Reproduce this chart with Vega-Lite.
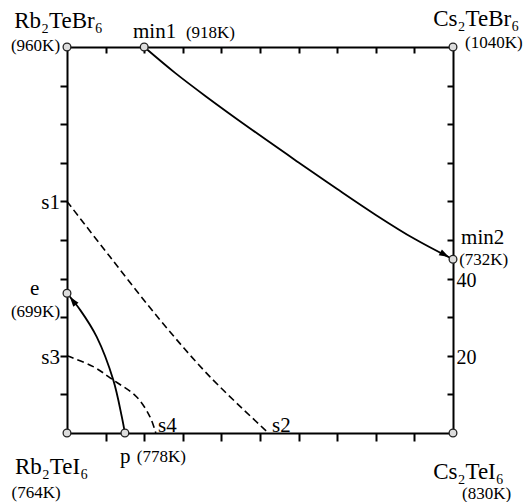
{
  "$schema": "https://vega.github.io/schema/vega-lite/v6.json",
  "width": 386,
  "height": 386,
  "autosize": {"type": "none"},
  "padding": {"left": 67, "top": 47, "right": 76, "bottom": 69},
  "background": "white",
  "config": {
    "view": {"stroke": null},
    "axis": {"domainColor": "black", "domainWidth": 2, "tickColor": "black", "tickWidth": 2, "grid": false, "title": null, "domainCap": "square"},
    "text": {"font": "Liberation Serif", "color": "black"}
  },
  "datasets": {
    "curves": [
      {"curve": "min1-min2", "kind": "path", "o": 1, "x": 20, "y": 100},
      {"curve": "min1-min2", "kind": "path", "o": 2, "x": 28, "y": 93.3},
      {"curve": "min1-min2", "kind": "path", "o": 3, "x": 36, "y": 87.2},
      {"curve": "min1-min2", "kind": "path", "o": 4, "x": 48, "y": 78.5},
      {"curve": "min1-min2", "kind": "path", "o": 5, "x": 60, "y": 70.1},
      {"curve": "min1-min2", "kind": "path", "o": 6, "x": 70, "y": 63.2},
      {"curve": "min1-min2", "kind": "path", "o": 7, "x": 80, "y": 56.5},
      {"curve": "min1-min2", "kind": "path", "o": 8, "x": 90, "y": 50.3},
      {"curve": "min1-min2", "kind": "path", "o": 9, "x": 100, "y": 45},
      {"curve": "p-e", "kind": "path", "o": 1, "x": 15, "y": 0},
      {"curve": "p-e", "kind": "path", "o": 2, "x": 14.2, "y": 4.2},
      {"curve": "p-e", "kind": "path", "o": 3, "x": 12.0, "y": 13.7},
      {"curve": "p-e", "kind": "path", "o": 4, "x": 7.7, "y": 24.9},
      {"curve": "p-e", "kind": "path", "o": 5, "x": 3.4, "y": 31.9},
      {"curve": "p-e", "kind": "path", "o": 6, "x": 0, "y": 36.2},
      {"curve": "s1-s2", "kind": "boundary", "o": 1, "x": 0, "y": 60},
      {"curve": "s1-s2", "kind": "boundary", "o": 2, "x": 11.1, "y": 45.7},
      {"curve": "s1-s2", "kind": "boundary", "o": 3, "x": 24.1, "y": 29.3},
      {"curve": "s1-s2", "kind": "boundary", "o": 4, "x": 37, "y": 14.6},
      {"curve": "s1-s2", "kind": "boundary", "o": 5, "x": 52.2, "y": 0},
      {"curve": "s3-s4", "kind": "boundary", "o": 1, "x": 0, "y": 20},
      {"curve": "s3-s4", "kind": "boundary", "o": 2, "x": 6.8, "y": 17.2},
      {"curve": "s3-s4", "kind": "boundary", "o": 3, "x": 12.0, "y": 13.7},
      {"curve": "s3-s4", "kind": "boundary", "o": 4, "x": 18.0, "y": 9.4},
      {"curve": "s3-s4", "kind": "boundary", "o": 5, "x": 21.5, "y": 4.2},
      {"curve": "s3-s4", "kind": "boundary", "o": 6, "x": 23, "y": 0}
    ],
    "points": [
      {"name": "Rb2TeBr6", "x": 0, "y": 100},
      {"name": "Cs2TeBr6", "x": 100, "y": 100},
      {"name": "Rb2TeI6", "x": 0, "y": 0},
      {"name": "Cs2TeI6", "x": 100, "y": 0},
      {"name": "min1", "x": 20, "y": 100},
      {"name": "min2", "x": 100, "y": 45},
      {"name": "e", "x": 0, "y": 36.2},
      {"name": "p", "x": 15, "y": 0}
    ],
    "tips": [
      {"curve": "min1-min2", "x": 100, "y": 45},
      {"curve": "p-e", "x": 0, "y": 36.2}
    ],
    "compounds": [
      {"text": "Rb₂TeBr₆", "x": -2.2, "y": 104.9},
      {"text": "Cs₂TeBr₆", "x": 106.0, "y": 105.4},
      {"text": "Rb₂TeI₆", "x": -4.0, "y": -10.7},
      {"text": "Cs₂TeI₆", "x": 104.0, "y": -11.8}
    ],
    "names": [
      {"text": "min1", "side": "start", "x": 17.1, "y": 102.3},
      {"text": "min2", "side": "start", "x": 102.1, "y": 49.0},
      {"text": "s1", "side": "end", "x": -1.8, "y": 58.0},
      {"text": "s3", "side": "end", "x": -1.8, "y": 18.0},
      {"text": "e", "side": "center", "x": -8.4, "y": 35.8},
      {"text": "p", "side": "start", "x": 13.7, "y": -7.8},
      {"text": "s4", "side": "start", "x": 23.6, "y": 0.3},
      {"text": "s2", "side": "start", "x": 53.1, "y": 0.3}
    ],
    "temps": [
      {"text": "(960K)", "side": "end", "x": -1.8, "y": 99.0},
      {"text": "(918K)", "side": "start", "x": 30.8, "y": 102.3},
      {"text": "(1040K)", "side": "start", "x": 103.1, "y": 99.7},
      {"text": "(699K)", "side": "end", "x": -1.8, "y": 30.1},
      {"text": "(732K)", "side": "start", "x": 101.6, "y": 43.6},
      {"text": "(764K)", "side": "center", "x": -8.0, "y": -16.9},
      {"text": "(778K)", "side": "start", "x": 18.1, "y": -7.4},
      {"text": "(830K)", "side": "center", "x": 108.7, "y": -17.1}
    ]
  },
  "layer": [
    {
      "data": {"name": "curves"},
      "transform": [{"filter": "datum.kind == 'path'"}],
      "mark": {"type": "line", "interpolate": "catmull-rom", "color": "black", "strokeWidth": 1.8},
      "encoding": {
        "x": {"field": "x", "type": "quantitative", "scale": {"domain": [0, 100], "nice": false}, "axis": {"orient": "bottom", "values": [10, 20, 30, 40, 50, 60, 70, 80, 90], "labels": false, "tickSize": 8}},
        "y": {"field": "y", "type": "quantitative", "scale": {"domain": [0, 100], "nice": false}, "axis": {"orient": "left", "values": [10, 20, 30, 40, 50, 60, 70, 80, 90], "labels": false, "tickSize": 7}},
        "detail": {"field": "curve"},
        "order": {"field": "o"}
      }
    },
    {
      "data": {"name": "curves"},
      "transform": [{"filter": "datum.kind == 'boundary'"}],
      "mark": {"type": "line", "interpolate": "catmull-rom", "color": "black", "strokeWidth": 1.6, "strokeDash": [7, 4]},
      "encoding": {
        "x": {"field": "x", "type": "quantitative", "scale": {"domain": [0, 100], "nice": false}, "axis": {"orient": "top", "values": [10, 20, 30, 40, 50, 60, 70, 80, 90], "labels": false, "tickSize": -6}},
        "y": {"field": "y", "type": "quantitative", "scale": {"domain": [0, 100], "nice": false}, "axis": {"orient": "right", "values": [10, 20, 30, 40, 50, 60, 70, 80, 90], "tickSize": -6, "labelExpr": "datum.value == 20 || datum.value == 40 ? datum.label : ''", "labelFont": "Liberation Serif", "labelFontSize": 20, "labelColor": "black", "labelPadding": 9, "labelBaseline": "middle", "labelOffset": 2}},
        "detail": {"field": "curve"},
        "order": {"field": "o"}
      }
    },
    {
      "data": {"name": "tips"},
      "transform": [{"filter": "datum.curve == 'min1-min2'"}],
      "mark": {"type": "point", "shape": "M -0.45 0 L -1.45 -0.33 L -1.45 0.33 Z", "filled": true, "color": "black", "opacity": 1, "size": 400, "angle": 29},
      "encoding": {
        "x": {"field": "x", "type": "quantitative", "scale": {"domain": [0, 100], "nice": false}, "axis": null},
        "y": {"field": "y", "type": "quantitative", "scale": {"domain": [0, 100], "nice": false}, "axis": null}
      }
    },
    {
      "data": {"name": "tips"},
      "transform": [{"filter": "datum.curve == 'p-e'"}],
      "mark": {"type": "point", "shape": "M -0.45 0 L -1.45 -0.33 L -1.45 0.33 Z", "filled": true, "color": "black", "opacity": 1, "size": 400, "angle": 232},
      "encoding": {
        "x": {"field": "x", "type": "quantitative", "scale": {"domain": [0, 100], "nice": false}, "axis": null},
        "y": {"field": "y", "type": "quantitative", "scale": {"domain": [0, 100], "nice": false}, "axis": null}
      }
    },
    {
      "data": {"name": "points"},
      "mark": {"type": "point", "shape": "circle", "filled": true, "fill": "#dddddd", "stroke": "#222222", "strokeWidth": 1.3, "opacity": 1, "size": 60},
      "encoding": {
        "x": {"field": "x", "type": "quantitative", "scale": {"domain": [0, 100], "nice": false}, "axis": null},
        "y": {"field": "y", "type": "quantitative", "scale": {"domain": [0, 100], "nice": false}, "axis": null}
      }
    },
    {
      "data": {"name": "compounds"},
      "mark": {"type": "text", "align": "center", "baseline": "alphabetic", "fontSize": 23},
      "encoding": {
        "x": {"field": "x", "type": "quantitative", "scale": {"domain": [0, 100], "nice": false}, "axis": null},
        "y": {"field": "y", "type": "quantitative", "scale": {"domain": [0, 100], "nice": false}, "axis": null},
        "text": {"field": "text"}
      }
    },
    {
      "data": {"name": "names"},
      "transform": [{"filter": "datum.side == 'center'"}],
      "mark": {"type": "text", "align": "center", "baseline": "alphabetic", "fontSize": 21},
      "encoding": {
        "x": {"field": "x", "type": "quantitative", "scale": {"domain": [0, 100], "nice": false}, "axis": null},
        "y": {"field": "y", "type": "quantitative", "scale": {"domain": [0, 100], "nice": false}, "axis": null},
        "text": {"field": "text"}
      }
    },
    {
      "data": {"name": "names"},
      "transform": [{"filter": "datum.side == 'start'"}],
      "mark": {"type": "text", "align": "left", "baseline": "alphabetic", "fontSize": 21},
      "encoding": {
        "x": {"field": "x", "type": "quantitative", "scale": {"domain": [0, 100], "nice": false}, "axis": null},
        "y": {"field": "y", "type": "quantitative", "scale": {"domain": [0, 100], "nice": false}, "axis": null},
        "text": {"field": "text"}
      }
    },
    {
      "data": {"name": "names"},
      "transform": [{"filter": "datum.side == 'end'"}],
      "mark": {"type": "text", "align": "right", "baseline": "alphabetic", "fontSize": 21},
      "encoding": {
        "x": {"field": "x", "type": "quantitative", "scale": {"domain": [0, 100], "nice": false}, "axis": null},
        "y": {"field": "y", "type": "quantitative", "scale": {"domain": [0, 100], "nice": false}, "axis": null},
        "text": {"field": "text"}
      }
    },
    {
      "data": {"name": "temps"},
      "transform": [{"filter": "datum.side == 'center'"}],
      "mark": {"type": "text", "align": "center", "baseline": "alphabetic", "fontSize": 17},
      "encoding": {
        "x": {"field": "x", "type": "quantitative", "scale": {"domain": [0, 100], "nice": false}, "axis": null},
        "y": {"field": "y", "type": "quantitative", "scale": {"domain": [0, 100], "nice": false}, "axis": null},
        "text": {"field": "text"}
      }
    },
    {
      "data": {"name": "temps"},
      "transform": [{"filter": "datum.side == 'start'"}],
      "mark": {"type": "text", "align": "left", "baseline": "alphabetic", "fontSize": 17},
      "encoding": {
        "x": {"field": "x", "type": "quantitative", "scale": {"domain": [0, 100], "nice": false}, "axis": null},
        "y": {"field": "y", "type": "quantitative", "scale": {"domain": [0, 100], "nice": false}, "axis": null},
        "text": {"field": "text"}
      }
    },
    {
      "data": {"name": "temps"},
      "transform": [{"filter": "datum.side == 'end'"}],
      "mark": {"type": "text", "align": "right", "baseline": "alphabetic", "fontSize": 17},
      "encoding": {
        "x": {"field": "x", "type": "quantitative", "scale": {"domain": [0, 100], "nice": false}, "axis": null},
        "y": {"field": "y", "type": "quantitative", "scale": {"domain": [0, 100], "nice": false}, "axis": null},
        "text": {"field": "text"}
      }
    }
  ],
  "resolve": {"axis": {"x": "independent", "y": "independent"}}
}
